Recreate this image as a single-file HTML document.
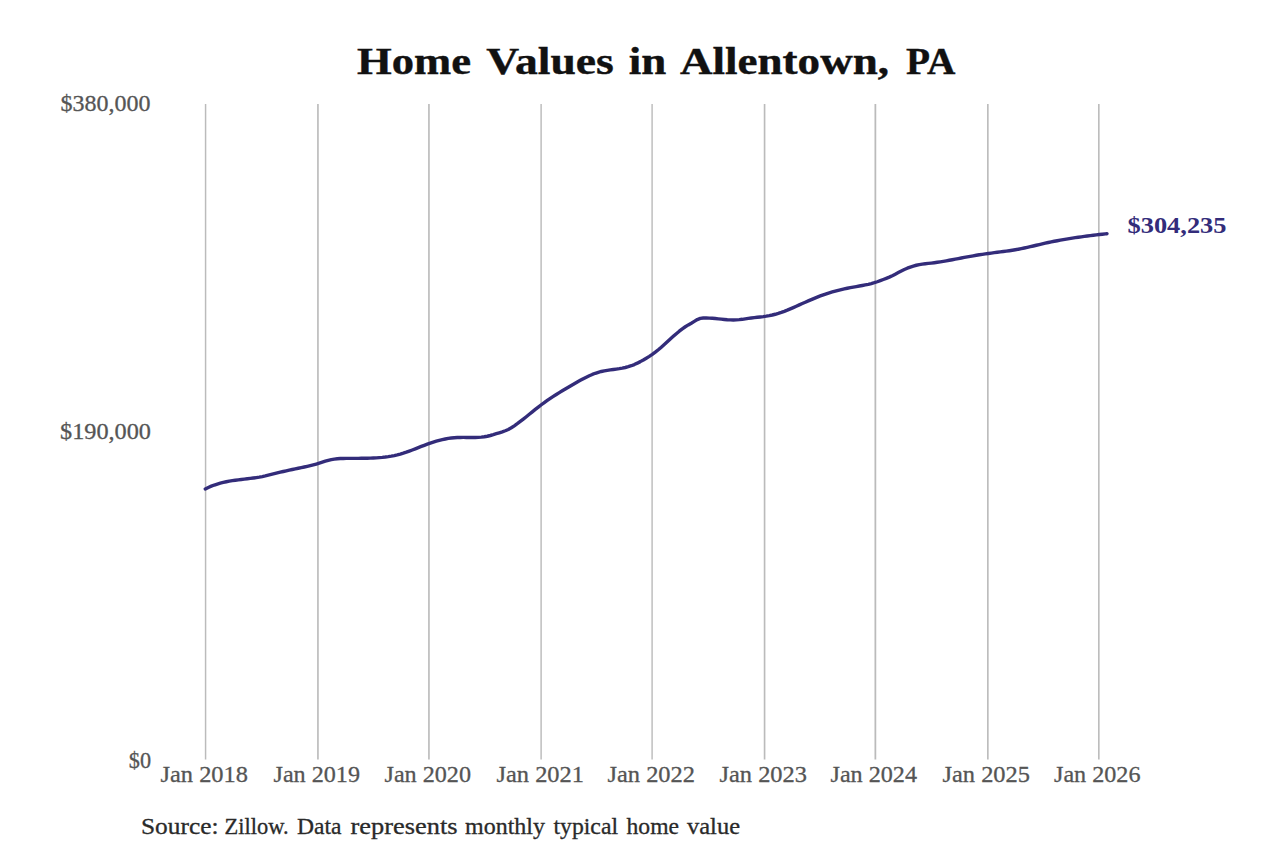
<!DOCTYPE html>
<html><head><meta charset="utf-8"><title>Home Values in Allentown, PA</title>
<style>
html,body{margin:0;padding:0;background:#fff;}
body{width:1280px;height:853px;overflow:hidden;}
svg{display:block;}
text{font-family:"Liberation Serif",serif;}
</style></head><body>
<svg width="1280" height="853" viewBox="0 0 1280 853">
<rect width="1280" height="853" fill="#fff"/>
<g>
<rect x="204" y="104" width="1" height="655.5" fill="#f4f4f4"/>
<rect x="205" y="104" width="1" height="655.5" fill="#bbbbbb"/>
<rect x="206" y="104" width="1" height="655.5" fill="#eaeaea"/>
<rect x="317" y="104" width="1" height="655.5" fill="#c2c2c2"/>
<rect x="318" y="104" width="1" height="655.5" fill="#cbcbcb"/>
<rect x="428" y="104" width="1" height="655.5" fill="#c2c2c2"/>
<rect x="429" y="104" width="1" height="655.5" fill="#cbcbcb"/>
<rect x="540" y="104" width="1" height="655.5" fill="#d5d5d5"/>
<rect x="541" y="104" width="1" height="655.5" fill="#c6c6c6"/>
<rect x="651" y="104" width="1" height="655.5" fill="#d5d5d5"/>
<rect x="652" y="104" width="1" height="655.5" fill="#c8c8c8"/>
<rect x="763" y="104" width="1" height="655.5" fill="#eeeeee"/>
<rect x="764" y="104" width="1" height="655.5" fill="#bbbbbb"/>
<rect x="765" y="104" width="1" height="655.5" fill="#e4e4e4"/>
<rect x="874" y="104" width="1" height="655.5" fill="#dcdcdc"/>
<rect x="875" y="104" width="1" height="655.5" fill="#bbbbbb"/>
<rect x="876" y="104" width="1" height="655.5" fill="#eeeeee"/>
<rect x="987" y="104" width="1" height="655.5" fill="#bdbdbd"/>
<rect x="988" y="104" width="1" height="655.5" fill="#d2d2d2"/>
<rect x="1098" y="104" width="1" height="655.5" fill="#bdbdbd"/>
<rect x="1099" y="104" width="1" height="655.5" fill="#d4d4d4"/>
</g>
<path id="curve" d="M205.30,488.98 L208.30,487.49 L211.30,486.18 L214.30,485.03 L217.30,484.02 L220.30,483.14 L223.30,482.38 L226.30,481.73 L229.30,481.16 L232.30,480.67 L235.30,480.23 L238.30,479.84 L241.30,479.48 L244.30,479.14 L247.30,478.79 L250.30,478.43 L253.30,478.05 L256.30,477.62 L259.30,477.13 L262.30,476.57 L265.30,475.93 L268.30,475.22 L271.30,474.47 L274.30,473.70 L277.30,472.93 L280.30,472.19 L283.30,471.48 L286.30,470.80 L289.30,470.14 L292.30,469.50 L295.30,468.87 L298.30,468.26 L301.30,467.64 L304.30,467.00 L307.30,466.34 L310.30,465.63 L313.30,464.87 L316.30,464.04 L319.30,463.14 L322.30,462.18 L325.30,461.23 L328.30,460.36 L331.30,459.64 L334.30,459.12 L337.30,458.77 L340.30,458.57 L343.30,458.46 L346.30,458.41 L349.30,458.38 L352.30,458.36 L355.30,458.35 L358.30,458.33 L361.30,458.30 L364.30,458.26 L367.30,458.20 L370.30,458.12 L373.30,458.00 L376.30,457.85 L379.30,457.64 L382.30,457.38 L385.30,457.05 L388.30,456.65 L391.30,456.16 L394.30,455.58 L397.30,454.89 L400.30,454.10 L403.30,453.19 L406.30,452.19 L409.30,451.11 L412.30,449.97 L415.30,448.80 L418.30,447.62 L421.30,446.45 L424.30,445.30 L427.30,444.19 L430.30,443.14 L433.30,442.15 L436.30,441.23 L439.30,440.39 L442.30,439.64 L445.30,438.99 L448.30,438.44 L451.30,438.00 L454.30,437.69 L457.30,437.51 L460.30,437.43 L463.30,437.42 L466.30,437.46 L469.30,437.50 L472.30,437.53 L475.30,437.50 L478.30,437.39 L481.30,437.16 L484.30,436.78 L487.30,436.23 L490.30,435.50 L493.30,434.65 L496.30,433.72 L499.30,432.76 L502.30,431.80 L505.30,430.76 L508.30,429.46 L511.30,427.80 L514.30,425.85 L517.30,423.71 L520.30,421.46 L523.30,419.11 L526.30,416.71 L529.30,414.28 L532.30,411.84 L535.30,409.43 L538.30,407.06 L541.30,404.76 L544.30,402.55 L547.30,400.42 L550.30,398.37 L553.30,396.38 L556.30,394.46 L559.30,392.59 L562.30,390.76 L565.30,388.97 L568.30,387.21 L571.30,385.47 L574.30,383.74 L577.30,382.03 L580.30,380.35 L583.30,378.73 L586.30,377.19 L589.30,375.75 L592.30,374.44 L595.30,373.28 L598.30,372.29 L601.30,371.48 L604.30,370.84 L607.30,370.31 L610.30,369.87 L613.30,369.47 L616.30,369.07 L619.30,368.63 L622.30,368.12 L625.30,367.49 L628.30,366.71 L631.30,365.74 L634.30,364.55 L637.30,363.16 L640.30,361.62 L643.30,359.95 L646.30,358.19 L649.30,356.37 L652.30,354.40 L655.30,352.20 L658.30,349.79 L661.30,347.23 L664.30,344.56 L667.30,341.82 L670.30,339.07 L673.30,336.34 L676.30,333.70 L679.30,331.18 L682.30,328.84 L685.30,326.74 L688.30,324.92 L691.30,323.22 L694.30,321.41 L697.30,319.57 L700.30,318.44 L703.30,318.02 L706.30,317.99 L709.30,318.10 L712.30,318.30 L715.30,318.56 L718.30,318.86 L721.30,319.17 L724.30,319.46 L727.30,319.70 L730.30,319.87 L733.30,319.93 L736.30,319.87 L739.30,319.65 L742.30,319.31 L745.30,318.89 L748.30,318.44 L751.30,318.01 L754.30,317.63 L757.30,317.30 L760.30,316.98 L763.30,316.63 L766.30,316.19 L769.30,315.65 L772.30,315.01 L775.30,314.26 L778.30,313.40 L781.30,312.42 L784.30,311.33 L787.30,310.15 L790.30,308.89 L793.30,307.59 L796.30,306.25 L799.30,304.89 L802.30,303.54 L805.30,302.19 L808.30,300.87 L811.30,299.57 L814.30,298.31 L817.30,297.09 L820.30,295.94 L823.30,294.84 L826.30,293.81 L829.30,292.85 L832.30,291.94 L835.30,291.09 L838.30,290.30 L841.30,289.56 L844.30,288.88 L847.30,288.23 L850.30,287.64 L853.30,287.08 L856.30,286.56 L859.30,286.05 L862.30,285.52 L865.30,284.94 L868.30,284.30 L871.30,283.57 L874.30,282.73 L877.30,281.74 L880.30,280.64 L883.30,279.49 L886.30,278.33 L889.30,277.10 L892.30,275.71 L895.30,274.19 L898.30,272.61 L901.30,271.03 L904.30,269.54 L907.30,268.20 L910.30,267.04 L913.30,266.06 L916.30,265.25 L919.30,264.60 L922.30,264.11 L925.30,263.74 L928.30,263.43 L931.30,263.09 L934.30,262.70 L937.30,262.28 L940.30,261.82 L943.30,261.33 L946.30,260.81 L949.30,260.27 L952.30,259.72 L955.30,259.16 L958.30,258.59 L961.30,258.02 L964.30,257.45 L967.30,256.89 L970.30,256.34 L973.30,255.81 L976.30,255.29 L979.30,254.79 L982.30,254.32 L985.30,253.88 L988.30,253.46 L991.30,253.07 L994.30,252.68 L997.30,252.30 L1000.30,251.92 L1003.30,251.53 L1006.30,251.13 L1009.30,250.70 L1012.30,250.24 L1015.30,249.75 L1018.30,249.22 L1021.30,248.63 L1024.30,248.01 L1027.30,247.35 L1030.30,246.67 L1033.30,245.97 L1036.30,245.27 L1039.30,244.56 L1042.30,243.86 L1045.30,243.18 L1048.30,242.53 L1051.30,241.90 L1054.30,241.29 L1057.30,240.71 L1060.30,240.16 L1063.30,239.62 L1066.30,239.11 L1069.30,238.62 L1072.30,238.14 L1075.30,237.69 L1078.30,237.25 L1081.30,236.83 L1084.30,236.42 L1087.30,236.02 L1090.30,235.64 L1093.30,235.27 L1096.30,234.91 L1099.30,234.56 L1102.30,234.22 L1105.30,233.88 L1107.00,233.69" fill="none" stroke="#332c7a" stroke-width="3.4" stroke-linecap="round" stroke-linejoin="round"/>
<text id="t0" x="357.00" y="73.7" font-size="38.5" font-weight="bold" fill="#111" stroke="#111" stroke-width="0.4" textLength="114.00" lengthAdjust="spacingAndGlyphs">Home</text>
<text id="t1" x="486.25" y="73.7" font-size="38.5" font-weight="bold" fill="#111" stroke="#111" stroke-width="0.4" textLength="127.50" lengthAdjust="spacingAndGlyphs">Values</text>
<text id="t2" x="628.75" y="73.7" font-size="38.5" font-weight="bold" fill="#111" stroke="#111" stroke-width="0.4" textLength="37.50" lengthAdjust="spacingAndGlyphs">in</text>
<text id="t3" x="680.00" y="73.7" font-size="38.5" font-weight="bold" fill="#111" stroke="#111" stroke-width="0.4" textLength="209.00" lengthAdjust="spacingAndGlyphs">Allentown,</text>
<text id="t4" x="906.00" y="73.7" font-size="38.5" font-weight="bold" fill="#111" stroke="#111" stroke-width="0.4" textLength="49.50" lengthAdjust="spacingAndGlyphs">PA</text>
<text id="y380" x="60.50" y="110.9" font-size="23" fill="#555" stroke="#555" stroke-width="0.3" textLength="90.00" lengthAdjust="spacingAndGlyphs">$380,000</text>
<text id="y190" x="60.00" y="439.0" font-size="23" fill="#555" stroke="#555" stroke-width="0.3" textLength="91.00" lengthAdjust="spacingAndGlyphs">$190,000</text>
<text id="y0" x="128.75" y="767.8" font-size="23" fill="#555" stroke="#555" stroke-width="0.3" textLength="22.25" lengthAdjust="spacingAndGlyphs">$0</text>
<text id="x18" x="160.50" y="781.7" font-size="23" fill="#555" stroke="#555" stroke-width="0.3" textLength="87.50" lengthAdjust="spacingAndGlyphs">Jan 2018</text>
<text id="x19" x="273.50" y="781.7" font-size="23" fill="#555" stroke="#555" stroke-width="0.3" textLength="86.50" lengthAdjust="spacingAndGlyphs">Jan 2019</text>
<text id="x20" x="384.50" y="781.7" font-size="23" fill="#555" stroke="#555" stroke-width="0.3" textLength="86.50" lengthAdjust="spacingAndGlyphs">Jan 2020</text>
<text id="x21" x="496.50" y="781.7" font-size="23" fill="#555" stroke="#555" stroke-width="0.3" textLength="87.50" lengthAdjust="spacingAndGlyphs">Jan 2021</text>
<text id="x22" x="607.50" y="781.7" font-size="23" fill="#555" stroke="#555" stroke-width="0.3" textLength="87.50" lengthAdjust="spacingAndGlyphs">Jan 2022</text>
<text id="x23" x="719.50" y="781.7" font-size="23" fill="#555" stroke="#555" stroke-width="0.3" textLength="87.50" lengthAdjust="spacingAndGlyphs">Jan 2023</text>
<text id="x24" x="830.50" y="781.7" font-size="23" fill="#555" stroke="#555" stroke-width="0.3" textLength="86.50" lengthAdjust="spacingAndGlyphs">Jan 2024</text>
<text id="x25" x="942.50" y="781.7" font-size="23" fill="#555" stroke="#555" stroke-width="0.3" textLength="87.50" lengthAdjust="spacingAndGlyphs">Jan 2025</text>
<text id="x26" x="1054.00" y="781.7" font-size="23" fill="#555" stroke="#555" stroke-width="0.3" textLength="86.50" lengthAdjust="spacingAndGlyphs">Jan 2026</text>
<text id="endlbl" x="1127.50" y="232.6" font-size="23" font-weight="bold" fill="#332c7a" textLength="99.00" lengthAdjust="spacingAndGlyphs">$304,235</text>
<text id="s0" x="141.00" y="834.2" font-size="23" fill="#2a2a2a" stroke="#2a2a2a" stroke-width="0.3" textLength="77.50" lengthAdjust="spacingAndGlyphs">Source:</text>
<text id="s1" x="224.50" y="834.2" font-size="23" fill="#2a2a2a" stroke="#2a2a2a" stroke-width="0.3" textLength="64.00" lengthAdjust="spacingAndGlyphs">Zillow.</text>
<text id="s2" x="297.00" y="834.2" font-size="23" fill="#2a2a2a" stroke="#2a2a2a" stroke-width="0.3" textLength="44.50" lengthAdjust="spacingAndGlyphs">Data</text>
<text id="s3" x="350.50" y="834.2" font-size="23" fill="#2a2a2a" stroke="#2a2a2a" stroke-width="0.3" textLength="107.00" lengthAdjust="spacingAndGlyphs">represents</text>
<text id="s4" x="465.00" y="834.2" font-size="23" fill="#2a2a2a" stroke="#2a2a2a" stroke-width="0.3" textLength="80.00" lengthAdjust="spacingAndGlyphs">monthly</text>
<text id="s5" x="553.50" y="834.2" font-size="23" fill="#2a2a2a" stroke="#2a2a2a" stroke-width="0.3" textLength="64.50" lengthAdjust="spacingAndGlyphs">typical</text>
<text id="s6" x="626.50" y="834.2" font-size="23" fill="#2a2a2a" stroke="#2a2a2a" stroke-width="0.3" textLength="52.50" lengthAdjust="spacingAndGlyphs">home</text>
<text id="s7" x="687.00" y="834.2" font-size="23" fill="#2a2a2a" stroke="#2a2a2a" stroke-width="0.3" textLength="53.00" lengthAdjust="spacingAndGlyphs">value</text>
</svg>
</body></html>
